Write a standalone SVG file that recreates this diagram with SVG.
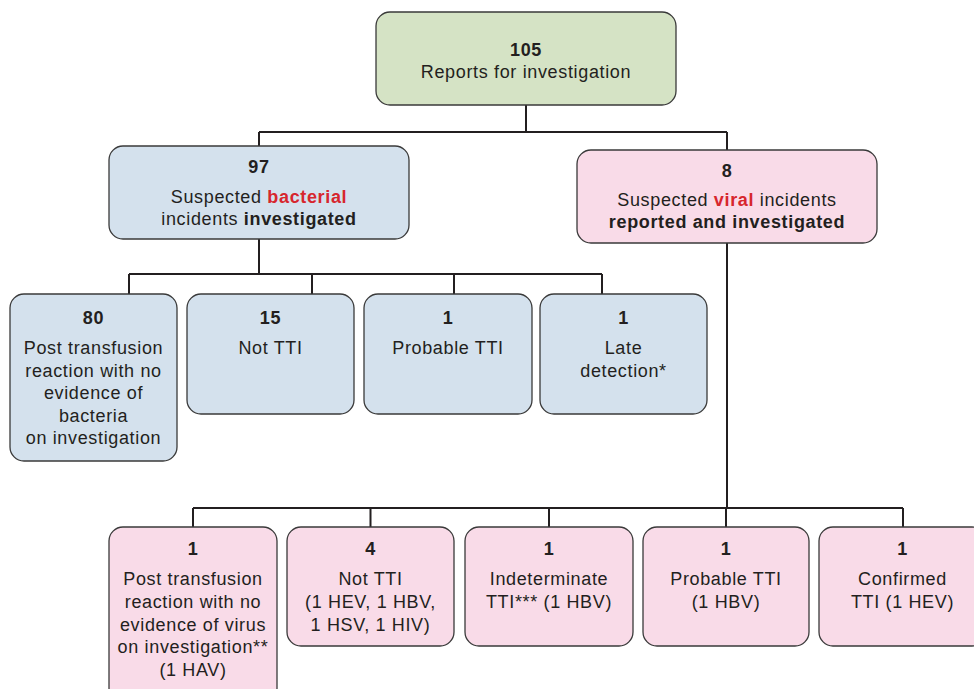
<svg xmlns="http://www.w3.org/2000/svg" width="974" height="689" viewBox="0 0 974 689">
<style>
.box{stroke:#3a3a3a;stroke-width:1.3}
.g{fill:#d5e3c5}
.b{fill:#d4e1ed}
.p{fill:#f9dbe8}
text{font-family:"Liberation Sans",Arial,Helvetica,sans-serif;font-size:18px;letter-spacing:0.65px;fill:#231f20;text-anchor:middle}
.bd{font-weight:bold}
.red{fill:#d7262d;font-weight:bold}
.con{stroke:#231f20;stroke-width:2;fill:none}
</style>
<rect width="974" height="689" fill="#ffffff"/>
<g id="connectors">
<path class="con" d="M526,105V132M259,132H727M259,132V146M727,132V150"/>
<path class="con" d="M259,239V274M129,274H602M129,274V294M312,274V294M454,274V294M602,274V294"/>
<path class="con" d="M727,243V508M193,508H903M193,508V527M370.5,508V527M549,508V527M726,508V527M903,508V527"/>
</g>
<g id="root">
<rect class="box g" x="376" y="12" width="300" height="93" rx="14"/>
<text x="526" y="56" class="bd">105</text>
<text x="526" y="78">Reports for investigation</text>
</g>
<g id="bacterial">
<rect class="box b" x="109" y="146" width="300" height="93" rx="14"/>
<text x="259" y="173" class="bd">97</text>
<text x="259" y="203">Suspected <tspan class="red">bacterial</tspan></text>
<text x="259" y="225">incidents <tspan class="bd">investigated</tspan></text>
</g>
<g id="viral">
<rect class="box p" x="577" y="150" width="300" height="93" rx="14"/>
<text x="727" y="177" class="bd">8</text>
<text x="727" y="206">Suspected <tspan class="red">viral</tspan> incidents</text>
<text x="727" y="228" class="bd">reported and investigated</text>
</g>
<g id="b80">
<rect class="box b" x="10" y="294" width="167" height="167" rx="14"/>
<text x="93.5" y="324" class="bd">80</text>
<text x="93.5" y="354">Post transfusion</text>
<text x="93.5" y="377">reaction with no</text>
<text x="93.5" y="399">evidence of</text>
<text x="93.5" y="422">bacteria</text>
<text x="93.5" y="444">on investigation</text>
</g>
<g id="b15">
<rect class="box b" x="187" y="294" width="167" height="120" rx="14"/>
<text x="270.5" y="324" class="bd">15</text>
<text x="270.5" y="354">Not TTI</text>
</g>
<g id="b1prob">
<rect class="box b" x="364" y="294" width="168" height="120" rx="14"/>
<text x="448" y="324" class="bd">1</text>
<text x="448" y="354">Probable TTI</text>
</g>
<g id="b1late">
<rect class="box b" x="540" y="294" width="167" height="120" rx="14"/>
<text x="623.5" y="324" class="bd">1</text>
<text x="623.5" y="354">Late</text>
<text x="623.5" y="377">detection*</text>
</g>
<g id="v1post">
<rect class="box p" x="109" y="527" width="168" height="175" rx="14"/>
<text x="193" y="555" class="bd">1</text>
<text x="193" y="585">Post transfusion</text>
<text x="193" y="608">reaction with no</text>
<text x="193" y="631">evidence of virus</text>
<text x="193" y="653">on investigation**</text>
<text x="193" y="676">(1 HAV)</text>
</g>
<g id="v4">
<rect class="box p" x="287" y="527" width="167" height="119" rx="14"/>
<text x="370.5" y="555" class="bd">4</text>
<text x="370.5" y="585">Not TTI</text>
<text x="370.5" y="608">(1 HEV, 1 HBV,</text>
<text x="370.5" y="631">1 HSV, 1 HIV)</text>
</g>
<g id="v1indet">
<rect class="box p" x="465" y="527" width="168" height="119" rx="14"/>
<text x="549" y="555" class="bd">1</text>
<text x="549" y="585">Indeterminate</text>
<text x="549" y="608">TTI*** (1 HBV)</text>
</g>
<g id="v1prob">
<rect class="box p" x="643" y="527" width="166" height="119" rx="14"/>
<text x="726" y="555" class="bd">1</text>
<text x="726" y="585">Probable TTI</text>
<text x="726" y="608">(1 HBV)</text>
</g>
<g id="v1conf">
<rect class="box p" x="819" y="527" width="167" height="119" rx="14"/>
<text x="902.5" y="555" class="bd">1</text>
<text x="902.5" y="585">Confirmed</text>
<text x="902.5" y="608">TTI (1 HEV)</text>
</g>
</svg>
